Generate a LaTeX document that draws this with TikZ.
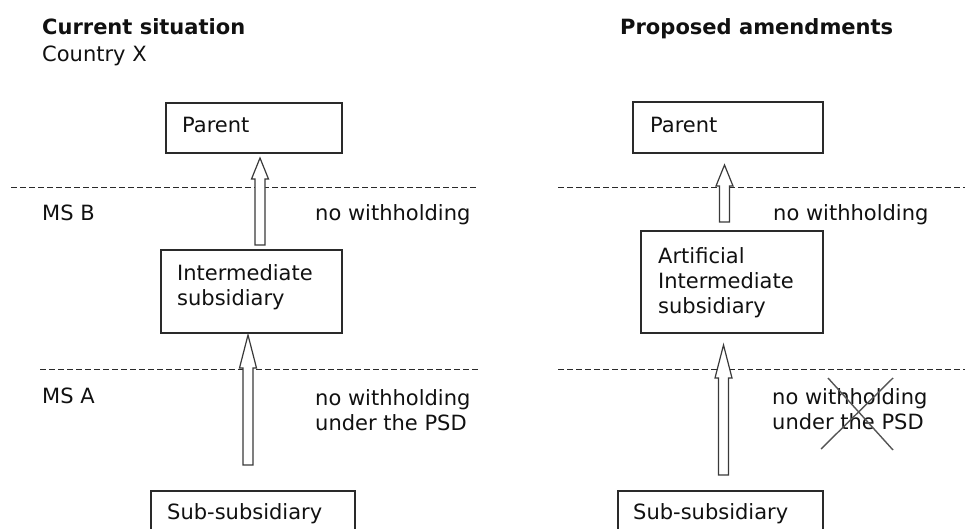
\documentclass[tikz,border=0pt]{standalone}
\usepackage{fontspec}
\setmainfont{DejaVu Sans}
\definecolor{ink}{HTML}{111111}
\definecolor{edge}{HTML}{2A2A2A}
\definecolor{arr}{HTML}{3A3A3A}
\definecolor{crossc}{HTML}{555555}
\tikzset{
  txt/.style={anchor=base west, inner sep=0pt, text=ink, font=\fontsize{21}{25}\selectfont},
  ttl/.style={txt, font=\fontsize{21}{25}\selectfont\bfseries},
  boxnode/.style={draw=edge, line width=1.8pt, anchor=north west, inner sep=0pt},
  sepline/.style={draw=edge, line width=1.2pt, dash pattern=on 6pt off 3pt},
  blockarrow/.style={draw=arr, fill=white, line width=1.2pt, line join=miter},
  crossline/.style={draw=crossc, line width=1.4pt}
}
% #1 bottom coordinate, #2 tip coordinate, #3 head length
\newcommand{\hollowarrow}[3]{%
  \draw[blockarrow] ($(#1)+(-5,0)$) -- ($(#2)+(-5,#3)$) -- ($(#2)+(-8.5,#3)$) -- (#2)
    -- ($(#2)+(8.5,#3)$) -- ($(#2)+(5,#3)$) -- ($(#1)+(5,0)$) -- cycle;}
\usetikzlibrary{calc}
\begin{document}
\begin{tikzpicture}[x=1pt,y=-1pt]
\clip (0,0) rectangle (965,529);
\useasboundingbox (0,0) rectangle (965,529);

% titles
\node[ttl] (t1) at (42,35) {\resizebox{203pt}{\height}{Current situation}};
\node[txt] (t2) at (42,62) {Country X};
\node[ttl] (t3) at (620,35) {\resizebox{273pt}{\height}{Proposed amendments}};

% dashed separators
\coordinate (d1a) at (11,187.5); \coordinate (d1b) at (477,187.5);
\coordinate (d2a) at (40,369.5); \coordinate (d2b) at (479,369.5);
\coordinate (d3a) at (558,187.5); \coordinate (d3b) at (965,187.5);
\coordinate (d4a) at (558,369.5); \coordinate (d4b) at (965,369.5);
\draw[sepline] (d1a) -- (d1b);
\draw[sepline] (d2a) -- (d2b);
\draw[sepline] (d3a) -- (d3b);
\draw[sepline] (d4a) -- (d4b);

% left column boxes
\node[boxnode, minimum width=176pt, minimum height=50pt] (lpar) at (165,102) {};
\node[txt] (lpart) at (182,133) {Parent};
\node[boxnode, minimum width=181pt, minimum height=83pt] (lint) at (160,249) {};
\node[txt] (lint1) at (177,280) {Intermediate};
\node[txt] (lint2) at (177,305) {subsidiary};
\node[boxnode, minimum width=204pt, minimum height=70pt] (lsub) at (150,490) {};
\node[txt] (lsubt) at (167,519) {Sub-subsidiary};

% right column boxes
\node[boxnode, minimum width=190pt, minimum height=51pt] (rpar) at (632,101) {};
\node[txt] (rpart) at (650,133) {Parent};
\node[boxnode, minimum width=182pt, minimum height=102pt] (rint) at (640,230) {};
\node[txt] (rint1) at (658,263) {Artificial};
\node[txt] (rint2) at (658,288) {Intermediate};
\node[txt] (rint3) at (658,313) {subsidiary};
\node[boxnode, minimum width=205pt, minimum height=70pt] (rsub) at (617,490) {};
\node[txt] (rsubt) at (633,519) {Sub-subsidiary};

% side labels
\node[txt] (msb) at (42,221) {MS B};
\node[txt] (msa) at (42,403) {MS A};
\node[txt] (lnw1) at (315,221) {no withholding};
\node[txt] (lnw2) at (315,405) {no withholding};
\node[txt] (lnw3) at (315,430) {under the PSD};
\node[txt] (rnw1) at (773,220) {no withholding};
\node[txt] (rnw2) at (772,404) {no withholding};
\node[txt] (rnw3) at (772,429) {under the PSD};

% arrows
\coordinate (a1b) at (260,245); \coordinate (a1t) at (260,158);
\coordinate (a2b) at (248,465); \coordinate (a2t) at (248,335);
\coordinate (a3b) at (724.5,222); \coordinate (a3t) at (724.5,165);
\coordinate (a4b) at (723.5,475); \coordinate (a4t) at (723.5,345);
\hollowarrow{a1b}{a1t}{21}
\hollowarrow{a2b}{a2t}{33}
\hollowarrow{a3b}{a3t}{21}
\hollowarrow{a4b}{a4t}{33}

% cross
\coordinate (c1) at (828,378); \coordinate (c2) at (893,450);
\coordinate (c3) at (893,378); \coordinate (c4) at (821,449);
\draw[crossline] (c1) -- (c2);
\draw[crossline] (c3) -- (c4);
\end{tikzpicture}
\end{document}
